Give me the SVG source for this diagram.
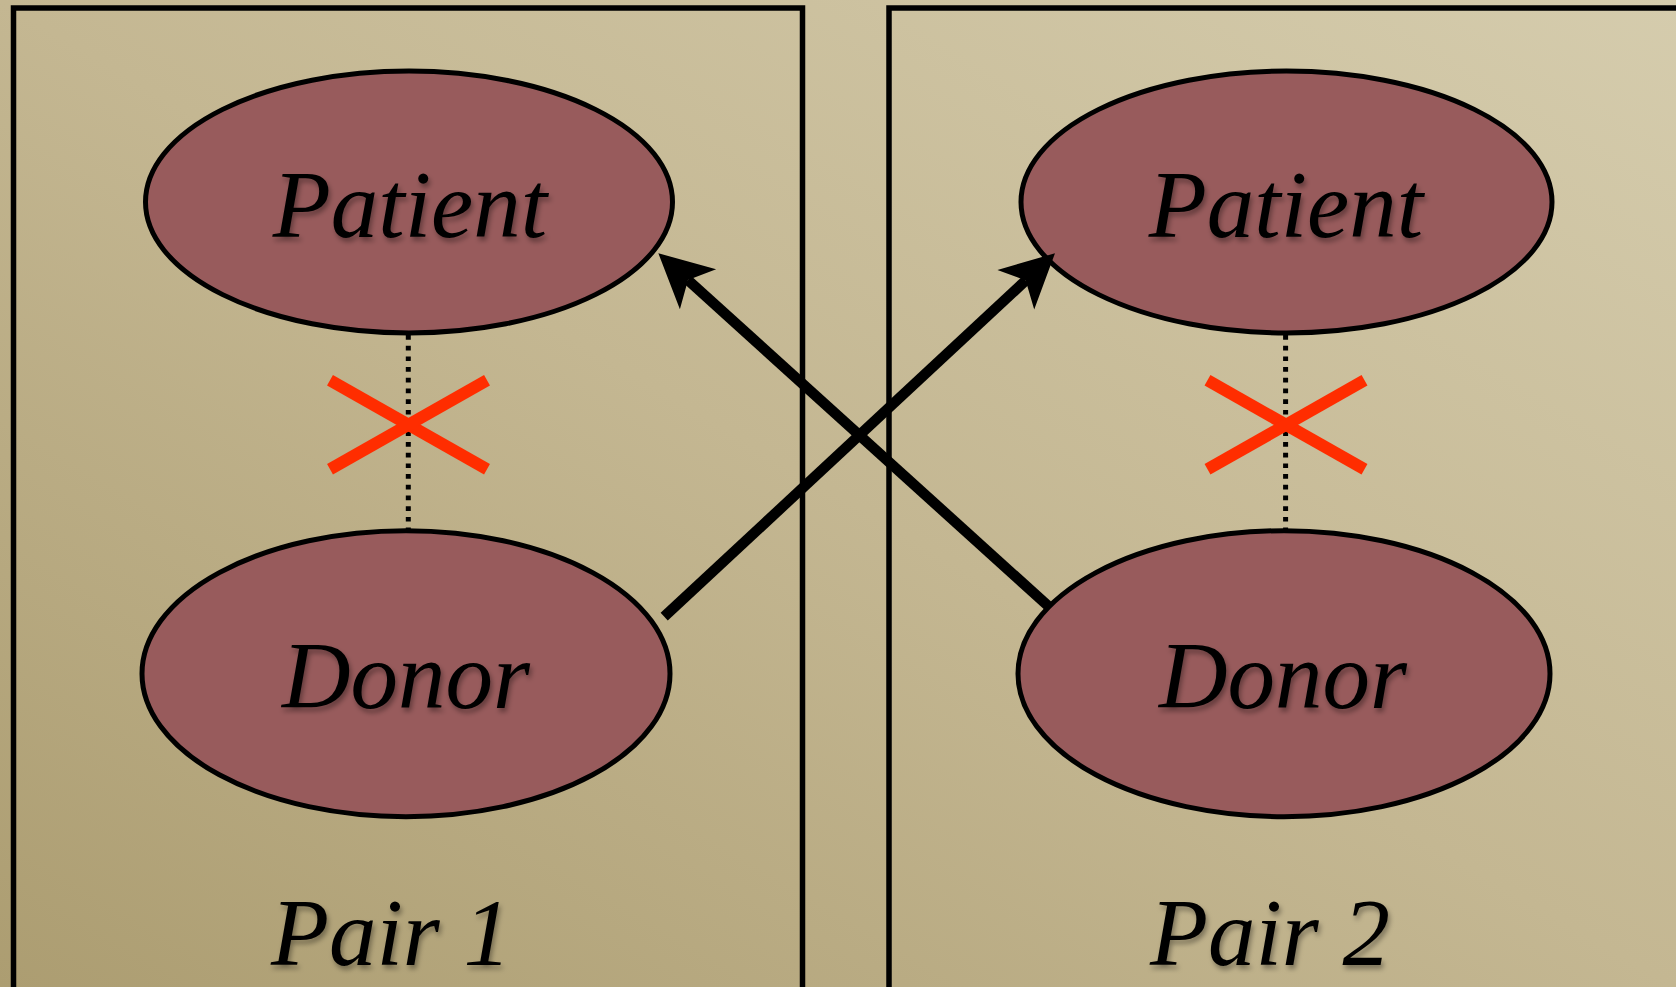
<svg xmlns="http://www.w3.org/2000/svg" width="1676" height="987" viewBox="0 0 1676 987">
  <defs>
    <linearGradient id="bg" x1="1" y1="0" x2="0" y2="1">
      <stop offset="0" stop-color="#d5ccad"/>
      <stop offset="0.5" stop-color="#c4b792"/>
      <stop offset="1" stop-color="#ac9d71"/>
    </linearGradient>
    <filter id="tshadow" x="-10%" y="-20%" width="130%" height="150%">
      <feDropShadow dx="2" dy="4" stdDeviation="2.5" flood-color="#000" flood-opacity="0.35"/>
    </filter>
    <marker id="head" markerUnits="userSpaceOnUse" orient="auto" refX="0" refY="0" viewBox="-14 -28 55 56" markerWidth="55" markerHeight="56">
      <path d="M40,0 L-13.5,-27 L0,0 L-13.5,27 Z" fill="#000"/>
    </marker>
    <style>
      .box { fill: none; stroke: #000; stroke-width: 5.5; }
      .node { fill: #985b5c; stroke: #000; stroke-width: 5; }
      .lbl { font-family: "Liberation Serif", "Times New Roman", serif; font-style: italic; font-size: 95px; fill: #000; text-anchor: middle; }
      .dots { stroke: #000; stroke-width: 5; stroke-dasharray: 4.7 6; fill: none; }
      .cross { stroke: #ff2d00; stroke-width: 12; fill: none; }
      .arrow { stroke: #000; stroke-width: 10.5; fill: none; marker-end: url(#head); }
    </style>
  </defs>

  <rect x="0" y="0" width="1676" height="987" fill="url(#bg)"/>

  <g id="pair1">
    <path class="box" d="M13.5,1000 L13.5,8 L802.5,8 L802.5,1000"/>
    <text class="lbl" x="391" y="965" filter="url(#tshadow)">Pair 1</text>
  </g>
  <g id="pair2">
    <path class="box" d="M889,1000 L889,8 L1690,8"/>
    <text class="lbl" x="1270" y="965" filter="url(#tshadow)">Pair 2</text>
  </g>

  <g id="links">
    <line class="dots" x1="408.3" y1="335" x2="408.3" y2="530"/>
    <line class="dots" x1="1285.6" y1="335" x2="1285.6" y2="530"/>
  </g>

  <g id="patient1">
    <ellipse class="node" cx="409" cy="202" rx="263.5" ry="131"/>
    <text class="lbl" x="410" y="237" filter="url(#tshadow)">Patient</text>
  </g>
  <g id="donor1">
    <ellipse class="node" cx="406" cy="673.7" rx="264" ry="143"/>
    <text class="lbl" x="406" y="708" filter="url(#tshadow)">Donor</text>
  </g>
  <g id="patient2">
    <ellipse class="node" cx="1286.5" cy="202" rx="265.5" ry="131"/>
    <text class="lbl" x="1286" y="237" filter="url(#tshadow)">Patient</text>
  </g>
  <g id="donor2">
    <ellipse class="node" cx="1284" cy="673.7" rx="266" ry="143"/>
    <text class="lbl" x="1283" y="708" filter="url(#tshadow)">Donor</text>
  </g>

  <g id="blocked">
    <line class="cross" x1="330" y1="380.3" x2="487" y2="469.3"/>
    <line class="cross" x1="330" y1="469.3" x2="487" y2="380.3"/>
    <line class="cross" x1="1207.5" y1="380.3" x2="1364.5" y2="469.3"/>
    <line class="cross" x1="1207.5" y1="469.3" x2="1364.5" y2="380.3"/>
  </g>

  <g id="connectors">
    <line class="arrow" x1="1048.9" y1="606.7" x2="688" y2="280.1"/>
    <line class="arrow" x1="664.2" y1="616.7" x2="1025.7" y2="280.5"/>
  </g>
</svg>
